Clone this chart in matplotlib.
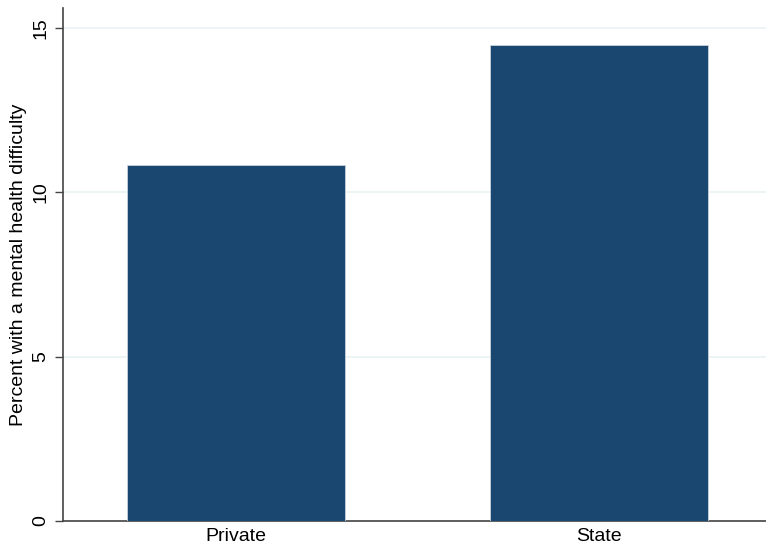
import numpy as np
import matplotlib.pyplot as plt

plt.rcParams['font.family'] = ['Liberation Sans', 'DejaVu Sans']

categories = ['Private', 'State']
values = [10.83, 14.48]
y_ticks = [0, 5, 10, 15]

fig = plt.figure(figsize=(7.66, 5.47), dpi=100)
ax = fig.add_axes([63 / 766, 26 / 547, 1 - 63 / 766, 513 / 547])

x = np.arange(len(categories))
ax.bar(x, values, width=0.6, color='#1a476f', edgecolor='#c8d3dd', linewidth=0.6, zorder=3)

ax.set_xlim(-0.4766, 1.46)
ax.set_ylim(0, 15.61)
ax.set_xticks(x)
ax.set_xticklabels(categories, fontsize=14)
ax.set_yticks(y_ticks)
ax.set_yticklabels([str(t) for t in y_ticks], fontsize=14, rotation=90, va='center')
ax.tick_params(axis='x', length=0, pad=5)
ax.tick_params(axis='y', length=6, width=1, color='#444444', pad=4)

ax.grid(axis='y', color='#eaf2f3', linewidth=1.2, zorder=0)
ax.set_axisbelow(True)

for side in ['top', 'right']:
    ax.spines[side].set_visible(False)
for side in ['left', 'bottom']:
    ax.spines[side].set_color('#444444')
    ax.spines[side].set_linewidth(1.2)

ax.set_ylabel('Percent with a mental health difficulty', fontsize=14, labelpad=4)

fig.savefig('out.png', dpi=100)
